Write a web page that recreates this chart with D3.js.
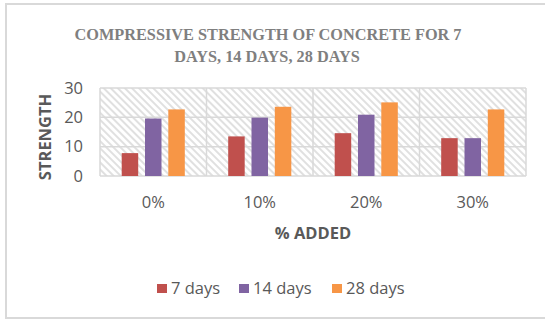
<!DOCTYPE html>
<html>
<head>
<meta charset="utf-8">
<script src="https://cdn.jsdelivr.net/npm/d3@7"></script>
<style>
  body { margin: 0; background: #fff; }
  text { font-family: "Open Sans", "Liberation Sans", sans-serif; }
</style>
</head>
<body>
<div id="chart"></div>
<script>
// data
const categories = ["0%", "10%", "20%", "30%"];
const seriesNames = ["7 days", "14 days", "28 days"];
const days7 = [7.8, 13.5, 14.6, 12.9];
const days14 = [19.6, 19.9, 20.9, 12.9];
const days28 = [22.7, 23.6, 25.1, 22.7];
const yTicks = [0, 10, 20, 30];
const colors = ["#c0504d", "#8064a2", "#f79646"];

const width = 545, height = 320;
const plot = { left: 100, right: 526, top: 88, bottom: 176 };

const svg = d3.select("#chart").append("svg")
    .attr("width", width).attr("height", height);

// hatch pattern for plot background
const defs = svg.append("defs");
const pat = defs.append("pattern")
    .attr("id", "hatch")
    .attr("patternUnits", "userSpaceOnUse")
    .attr("width", 5).attr("height", 5)
    .attr("patternTransform", "rotate(-45)");
pat.append("rect").attr("width", 5).attr("height", 5).attr("fill", "#fff");
pat.append("rect").attr("width", 2).attr("height", 5).attr("fill", "#e0e0e0");

// outer chart border (cropped at right)
svg.append("path")
    .attr("d", `M${width + 5},4 H6 V318 H${width + 5}`)
    .attr("fill", "none").attr("stroke", "#d9d9d9").attr("stroke-width", 2);

// title
const title = svg.append("text")
    .attr("text-anchor", "middle")
    .style("font-family", "'Liberation Serif', 'Times New Roman', serif")
    .style("font-weight", "bold")
    .style("font-size", "16.3px")
    .attr("fill", "#7f7f7f");
title.append("tspan").attr("x", 268).attr("y", 40).text("COMPRESSIVE STRENGTH OF CONCRETE FOR 7");
title.append("tspan").attr("x", 267).attr("y", 62).text("DAYS, 14 DAYS, 28 DAYS");

const x0 = d3.scaleBand().domain(categories).range([plot.left, plot.right]).padding(0);
const y = d3.scaleLinear().domain([0, 30]).range([plot.bottom, plot.top]);

// plot background
svg.append("rect")
    .attr("x", plot.left).attr("y", plot.top)
    .attr("width", plot.right - plot.left).attr("height", plot.bottom - plot.top)
    .attr("fill", "url(#hatch)");

// gridlines
svg.append("g").selectAll("line").data(yTicks).join("line")
    .attr("x1", plot.left).attr("x2", plot.right)
    .attr("y1", d => y(d)).attr("y2", d => y(d))
    .attr("stroke", "#d9d9d9").attr("stroke-width", 1.5);
svg.append("g").selectAll("line").data(d3.range(categories.length + 1)).join("line")
    .attr("x1", i => plot.left + i * x0.bandwidth()).attr("x2", i => plot.left + i * x0.bandwidth())
    .attr("y1", plot.top).attr("y2", plot.bottom)
    .attr("stroke", "#d9d9d9").attr("stroke-width", 1.5);

// bars
const series = [days7, days14, days28];
const barW = 16.5, barStep = 23.3;
categories.forEach((c, ci) => {
    const cx = x0(c) + x0.bandwidth() / 2;
    series.forEach((s, si) => {
        svg.append("rect")
            .attr("x", cx + (si - 1) * barStep - barW / 2)
            .attr("y", y(s[ci]))
            .attr("width", barW)
            .attr("height", y(0) - y(s[ci]))
            .attr("fill", colors[si]);
    });
});

// y tick labels
svg.append("g").selectAll("text").data(yTicks).join("text")
    .attr("x", 83).attr("y", d => y(d) + 5.5)
    .attr("text-anchor", "end")
    .style("font-size", "16.5px").attr("fill", "#595959")
    .text(d => d);

// x tick labels
svg.append("g").selectAll("text").data(categories).join("text")
    .attr("x", d => x0(d) + x0.bandwidth() / 2).attr("y", 207.5)
    .attr("text-anchor", "middle")
    .style("font-size", "16.5px").attr("fill", "#595959")
    .text(d => d);

// axis titles
svg.append("text")
    .attr("x", 313).attr("y", 239)
    .attr("text-anchor", "middle")
    .style("font-size", "16.5px").style("font-weight", "bold").attr("fill", "#595959")
    .text("% ADDED");
svg.append("text")
    .attr("transform", "translate(51,137) rotate(-90)")
    .attr("text-anchor", "middle")
    .style("font-size", "16.5px").style("font-weight", "bold").attr("fill", "#595959")
    .text("STRENGTH");

// legend
const legendX = [157, 239, 332];
const legend = svg.append("g").selectAll("g").data(seriesNames).join("g")
    .attr("transform", (d, i) => `translate(${legendX[i]},288)`);
legend.append("rect")
    .attr("x", 0).attr("y", -4).attr("width", 10).attr("height", 9)
    .attr("fill", (d, i) => colors[i]);
legend.append("text")
    .attr("x", 14).attr("y", 5.5)
    .style("font-size", "16.5px").attr("fill", "#595959")
    .text(d => d);
</script>
</body>
</html>
